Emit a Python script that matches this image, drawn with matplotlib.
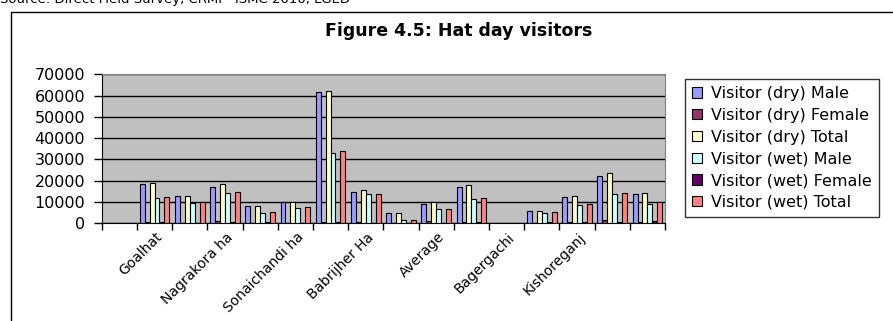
import numpy as np
import matplotlib
matplotlib.use("Agg")
import matplotlib.pyplot as plt
from matplotlib.patches import Rectangle
from matplotlib.transforms import ScaledTranslation

plt.rcParams['font.family'] = ['DejaVu Sans']

# -------------------------
# Hat day visitor counts (one slot per market, blanks have no survey)
# -------------------------
categories = ["", "Goalhat", "", "Nagrakora ha", "", "Sonaichandi ha", "",
              "Babrijher Ha", "", "Average", "", "Bagergachi", "",
              "Kishoreganj", "", ""]
nan = np.nan
dry_male = [nan, 18200, 12900, 17100, 8000, 9700, 61500, 14700, 4500, 8900, 17100, nan, 5600, 12400, 22300, 13600]
dry_female = [nan, 700, 100, 1100, 100, 100, 600, 700, 100, 800, 600, nan, 100, 500, 1300, 600]
dry_total = [nan, 18900, 12900, 18200, 8000, 9700, 62100, 15400, 4500, 9700, 17700, nan, 5600, 12900, 23600, 14200]
wet_male = [nan, 11700, 9600, 14200, 4900, 7100, 33000, 13500, 1400, 6700, 11300, nan, 4500, 8300, 13600, 8900]
wet_female = [nan, 700, 100, 600, 300, 200, 700, 100, 100, 100, 700, nan, 500, 600, 600, 800]
wet_total = [nan, 12400, 9700, 14800, 5200, 7300, 33700, 13500, 1500, 6700, 12000, nan, 5000, 8900, 14200, 9700]

series = [
    ("Visitor (dry) Male", dry_male, "#9999FF"),
    ("Visitor (dry) Female", dry_female, "#993366"),
    ("Visitor (dry) Total", dry_total, "#FFFFCC"),
    ("Visitor (wet) Male", wet_male, "#CCFFFF"),
    ("Visitor (wet) Female", wet_female, "#660066"),
    ("Visitor (wet) Total", wet_total, "#FF8080"),
]

W, H = 893, 321
fig = plt.figure(figsize=(W / 100, H / 100), dpi=100)

# chart frame (runs off the right and bottom edges)
fig.patches.append(Rectangle((11 / W, -0.1), 1.2, 1 - 12 / H + 0.1,
                             transform=fig.transFigure, fill=False,
                             edgecolor="black", linewidth=1.0))

fig.text(0.0, 1 - 3 / H, "Source: Direct Field Survey, CRMP- ISMC 2010, LGED",
         fontsize=9.5, va="baseline", ha="left")
fig.text(459 / W, 1 - 31 / H, "Figure 4.5: Hat day visitors",
         fontsize=12.5, fontweight="bold", ha="center", va="center")

ax = fig.add_axes([101.7 / W, 1 - 223 / H, (665 - 101.7) / W, (223 - 74.3) / H])
ax.set_facecolor("#C0C0C0")

x = np.arange(len(categories))
w = 0.14
for i, (name, vals, color) in enumerate(series):
    ax.bar(x + (i - 2.5) * w, vals, width=w, color=color,
           edgecolor="black", linewidth=0.8, label=name, zorder=3)

ax.set_xlim(-0.5, len(categories) - 0.5)
ax.set_ylim(0, 70000)
ax.set_yticks(np.arange(0, 70001, 10000))
ax.tick_params(axis="y", direction="out", length=6, width=1, labelsize=11.5, pad=6)
ax.yaxis.grid(True, color="black", linewidth=1, zorder=1)

# category boundary ticks on the x axis, labels at slot centres
ax.set_xticks(x)
ax.set_xticklabels([])
ax.set_xticks(np.arange(-0.5, len(categories)), minor=True)
ax.tick_params(axis="x", which="major", length=0)
ax.tick_params(axis="x", which="minor", direction="out", length=5, width=1)

offset = ScaledTranslation(1 / 100, -7 / 100, fig.dpi_scale_trans)
for xi, lab in zip(x, categories):
    if lab:
        ax.text(xi, 0, lab, rotation=45, rotation_mode="anchor",
                ha="right", va="top", fontsize=10,
                transform=ax.get_xaxis_transform() + offset)

for side in ["top", "right"]:
    ax.spines[side].set_color("#808080")
for side in ["left", "bottom"]:
    ax.spines[side].set_color("black")

leg = ax.legend(loc="upper left", bbox_to_anchor=(685 / W, 1 - 79 / H),
                bbox_transform=fig.transFigure, fontsize=11.5, frameon=True,
                fancybox=False, edgecolor="black", handlelength=0.62,
                handleheight=0.62, handletextpad=0.56, labelspacing=0.42,
                borderpad=0.45, borderaxespad=0)
leg.get_frame().set_linewidth(1.0)

fig.savefig("out.png", dpi=100)
